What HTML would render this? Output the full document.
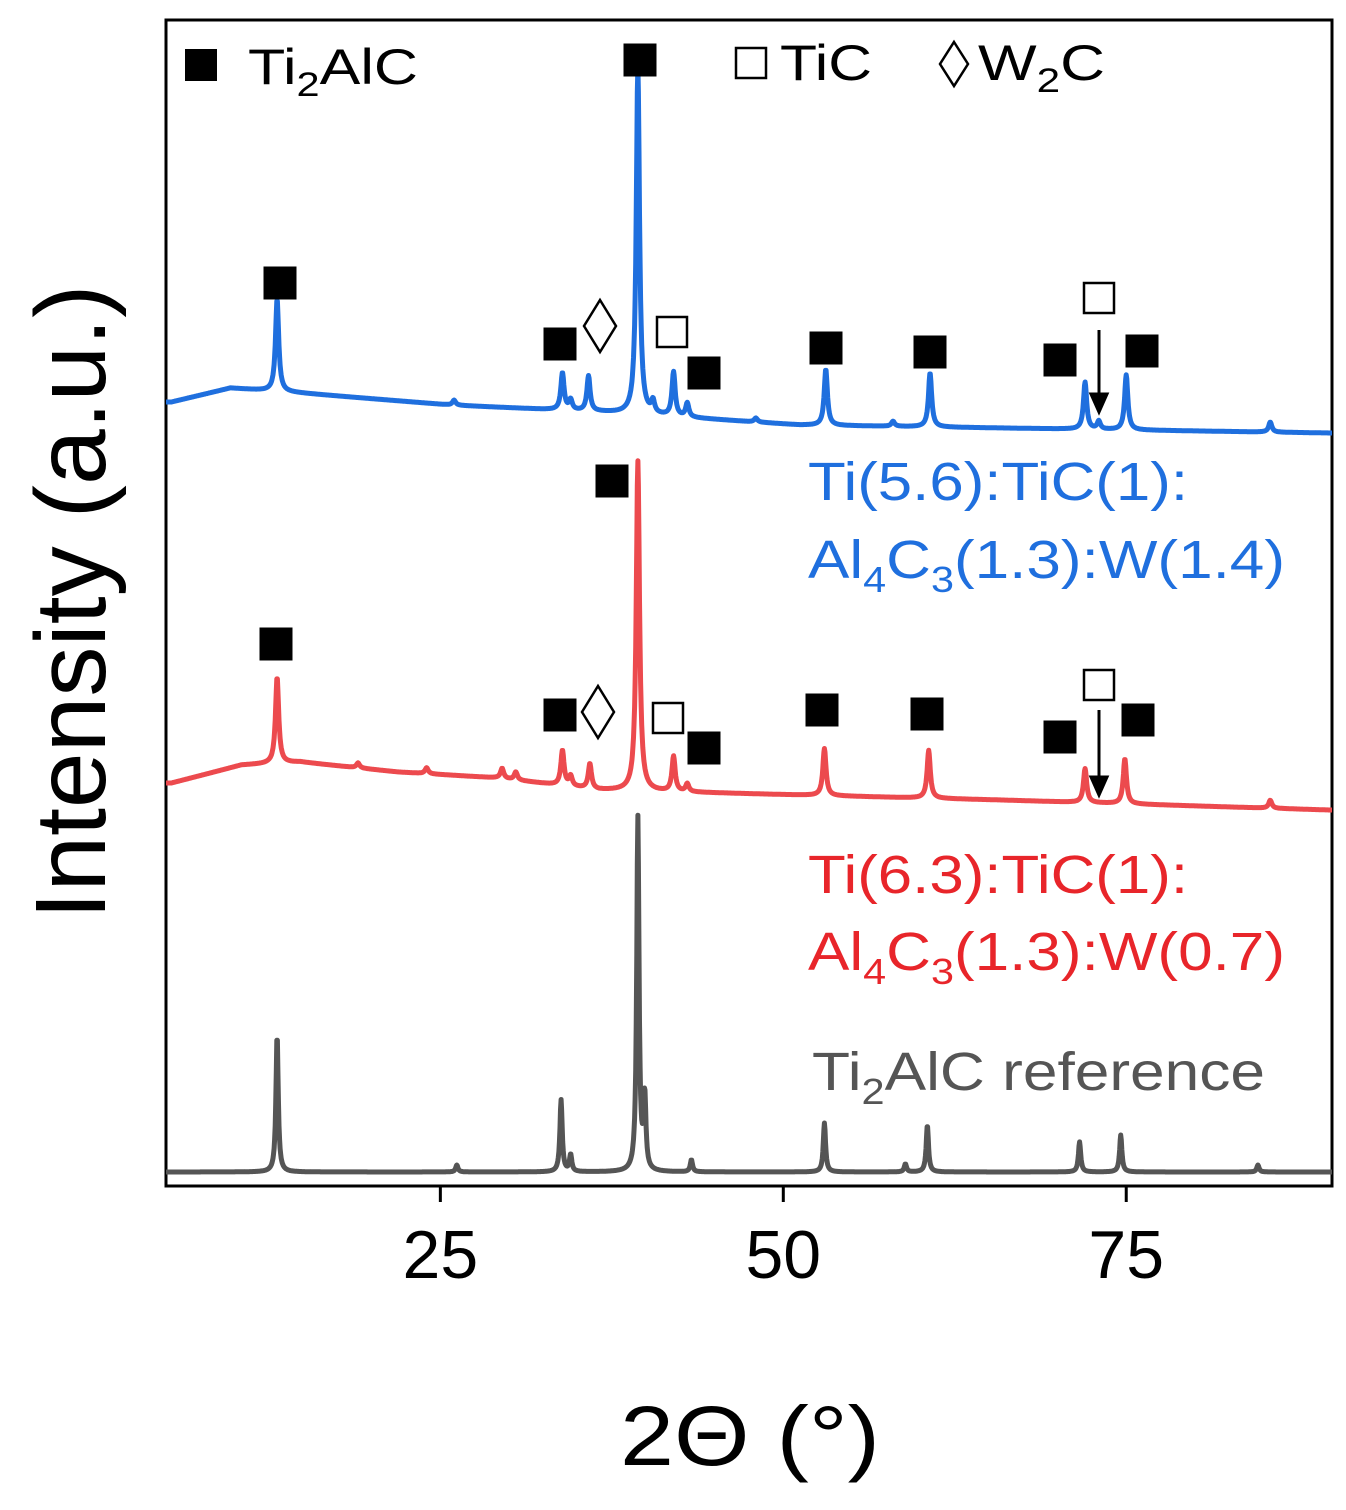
<!DOCTYPE html>
<html><head><meta charset="utf-8"><style>
body{margin:0;background:#fff}
svg{display:block;font-family:"Liberation Sans",Arial,sans-serif}
</style></head><body>
<svg id="chart" width="1346" height="1510" viewBox="0 0 1346 1510">
<rect x="166" y="20" width="1166" height="1166" fill="none" stroke="#000" stroke-width="3"/>
<g id="ticks"></g>
<g id="series"></g>
<g id="marks"></g>
<text x="105" y="602" transform="rotate(-90 105 602)" text-anchor="middle" font-size="100" textLength="635" lengthAdjust="spacingAndGlyphs">Intensity (a.u.)</text>
<text x="750" y="1465" text-anchor="middle" font-size="84" textLength="260" lengthAdjust="spacingAndGlyphs">2Θ (°)</text>
<g>
<rect x="185" y="49" width="32" height="32" fill="#000"/>
<text x="248" y="84" font-size="50" textLength="170" lengthAdjust="spacingAndGlyphs">Ti<tspan font-size="34" dy="12">2</tspan><tspan dy="-12">AlC</tspan></text>
<rect x="736" y="48" width="30" height="30" fill="none" stroke="#000" stroke-width="2.5"/>
<text x="780" y="80" font-size="50" textLength="92" lengthAdjust="spacingAndGlyphs">TiC</text>
<path d="M954 42 L968 64 L954 86 L940 64 Z" fill="none" stroke="#000" stroke-width="2.5"/>
<text x="978" y="80" font-size="50" textLength="127" lengthAdjust="spacingAndGlyphs">W<tspan font-size="34" dy="12">2</tspan><tspan dy="-12">C</tspan></text>
</g>
<g fill="#1f6fde" font-size="54">
<text x="808" y="500" textLength="380" lengthAdjust="spacingAndGlyphs">Ti(5.6):TiC(1):</text>
<text x="808" y="578" textLength="477" lengthAdjust="spacingAndGlyphs">Al<tspan font-size="36" dy="14">4</tspan><tspan dy="-14">C</tspan><tspan font-size="36" dy="14">3</tspan><tspan dy="-14">(1.3):W(1.4)</tspan></text>
</g>
<g fill="#e8252a" font-size="54">
<text x="808" y="893" textLength="380" lengthAdjust="spacingAndGlyphs">Ti(6.3):TiC(1):</text>
<text x="808" y="970" textLength="477" lengthAdjust="spacingAndGlyphs">Al<tspan font-size="36" dy="14">4</tspan><tspan dy="-14">C</tspan><tspan font-size="36" dy="14">3</tspan><tspan dy="-14">(1.3):W(0.7)</tspan></text>
</g>
<text x="812" y="1090" fill="#555" font-size="54" textLength="453" lengthAdjust="spacingAndGlyphs">Ti<tspan font-size="36" dy="14">2</tspan><tspan dy="-14">AlC reference</tspan></text>
</svg>
<script>
// x domain (2θ) and y domain (a.u.)
const xTicks=[25,50,75];
const grayBaseX=[5,90];
const grayBaseV=[14,14];
const grayPeakPos=[13.1,26.2,33.8,34.5,39.4,39.9,43.3,53.0,58.9,60.5,71.6,74.6,84.6];
const grayPeakH=[137,7,72,17,354,72,12,49,8,47,30,37,7];
const blueBaseX=[5,5.4,9.7,14.8,25.7,36.7,51.2,65.8,89.8,90];
const blueBaseV=[784,784,798,793,781,774,761,758,753,753];
const bluePeakPos=[13.1,26,33.9,34.5,35.8,39.4,40.5,42.0,43.0,48,53.1,58,60.7,72.0,73.0,75.0,85.5];
const bluePeakH=[92,5,37,10,35,348,12,44,14,4,56,5,54,47,8,55,10];
const redBaseX=[5,5.4,10.5,14.8,21.9,29.2,36.5,51.2,65.8,89.8,90];
const redBaseV=[403,403,421,424,414,408,396,391,386,376,376];
const redPeakPos=[13.1,19,24,29.5,30.5,33.9,34.5,35.9,39.4,42.0,43.0,53.0,60.6,72.0,74.9,85.5];
const redPeakH=[86,5,6,10,8,35,10,25,330,35,8,47,48,34,45,8];

const X0=166,X1=1332,Y0=1186,Y1=20;
const xs=v=>X0+(v-5)/(90-5)*(X1-X0);
const ys=v=>Y0-(v-0)/(1166-0)*(Y0-Y1);
const NS="http://www.w3.org/2000/svg";
function interp(xa,va,x){for(let i=0;i<xa.length-1;i++){if(x>=xa[i]&&x<=xa[i+1]){const t=(x-xa[i])/(xa[i+1]-xa[i]);return va[i]+t*(va[i+1]-va[i]);}}return va[va.length-1];}
function curve(bx,bv,pp,ph,w){let d="";for(let x=5;x<=90.001;x+=0.04){let v=interp(bx,bv,x);for(let i=0;i<pp.length;i++){const u=(x-pp[i])/w;v+=ph[i]/(1+u*u);}d+=(d?"L":"M")+xs(x).toFixed(1)+" "+ys(v).toFixed(1);}return d;}
const sg=document.getElementById("series");
function addPath(d,c,name){const p=document.createElementNS(NS,"path");p.setAttribute("d",d);p.setAttribute("fill","none");p.setAttribute("stroke",c);p.setAttribute("stroke-width","5");p.setAttribute("stroke-linejoin","round");


sg.appendChild(p);}
addPath(curve(grayBaseX,grayBaseV,grayPeakPos,grayPeakH,0.1),"#555","ti2alc-reference-line");
addPath(curve(redBaseX,redBaseV,redPeakPos,redPeakH,0.14),"#ec4a4e","red-sample-line");
addPath(curve(blueBaseX,blueBaseV,bluePeakPos,bluePeakH,0.14),"#1f6fde","blue-sample-line");
const tg=document.getElementById("ticks");
for(const t of xTicks){const l=document.createElementNS(NS,"line");l.setAttribute("x1",xs(t));l.setAttribute("x2",xs(t));l.setAttribute("y1",1186);l.setAttribute("y2",1202);l.setAttribute("stroke","#000");l.setAttribute("stroke-width","3");


tg.appendChild(l);
const tx=document.createElementNS(NS,"text");tx.setAttribute("x",xs(t));tx.setAttribute("y",1278);tx.setAttribute("text-anchor","middle");tx.setAttribute("font-size","68");tx.textContent=t;


tg.appendChild(tx);}
// markers: type, cx, cy
const markers=[["f",280,283],["f",560,344],["d",600,326],["f",640,60],["o",672,332],["f",704,373],["f",826,348],["f",930,352],["f",1060,360],["o",1099,298],["f",1142,351],
["f",276,644],["f",560,715],["d",598,712],["f",612,481],["o",668,718],["f",704,748],["f",822,710],["f",927,714],["f",1060,737],["o",1099,685],["f",1138,720]];
const mg=document.getElementById("marks");
for(const [t,cx,cy] of markers){let e;
if(t==="d"){e=document.createElementNS(NS,"path");e.setAttribute("d",`M${cx} ${cy-26}L${cx+16} ${cy}L${cx} ${cy+26}L${cx-16} ${cy}Z`);e.setAttribute("fill","none");e.setAttribute("stroke","#000");e.setAttribute("stroke-width","2.5");}
else{e=document.createElementNS(NS,"rect");const s=t==="f"?33:30;e.setAttribute("x",cx-s/2);e.setAttribute("y",cy-s/2);e.setAttribute("width",s);e.setAttribute("height",s);
if(t==="f")e.setAttribute("fill","#000");else{e.setAttribute("fill","#fff");e.setAttribute("stroke","#000");e.setAttribute("stroke-width","2.5");}}


mg.appendChild(e);}
for(const [y1,y2] of [[330,412],[710,795]]){const a=document.createElementNS(NS,"path");a.setAttribute("d",`M1099 ${y1}L1099 ${y2-14}M1091 ${y2-18}L1099 ${y2}L1107 ${y2-18}Z`);a.setAttribute("stroke","#000");a.setAttribute("stroke-width","3");a.setAttribute("fill","#000");


mg.appendChild(a);}
</script>
</body></html>
